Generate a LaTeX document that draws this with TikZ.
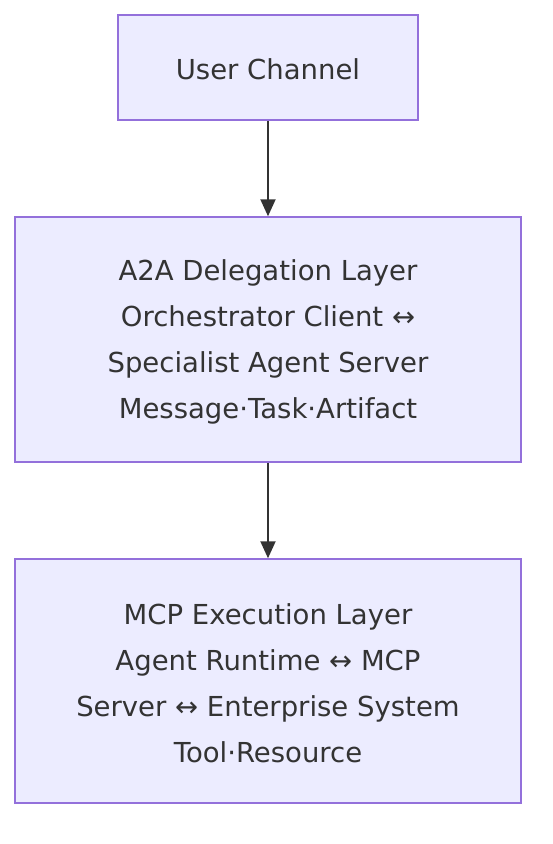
\documentclass[tikz,border=0pt]{standalone}
\usepackage{fontspec}
\setmainfont{DejaVu Sans}
\usetikzlibrary{arrows.meta}
\definecolor{boxfill}{HTML}{ECECFF}
\definecolor{boxdraw}{HTML}{9370DB}
\definecolor{txt}{HTML}{333333}
\begin{document}
\begin{tikzpicture}[x=1pt,y=-1pt,
  layer/.style={draw=boxdraw,fill=boxfill,line width=1.5pt,align=center,inner sep=0pt},
  lbl/.style={text=txt,align=center,font=\fontsize{27.5}{46}\selectfont,inner sep=0pt},
  conn/.style={draw=txt,line width=2pt,-{Triangle[length=17pt,width=15pt]}}]
\useasboundingbox (0,0) rectangle (552,844);
\node[layer,minimum width=300pt,minimum height=105pt] (user) at (268,67.5) {};
\node[lbl] (userT) at (268,69.5) {User Channel};
\node[layer,minimum width=506pt,minimum height=245pt] (a2a) at (268,339.5) {};
\node[lbl] (a2aT) at (268,342)
  {A2A Delegation Layer\\Orchestrator Client ↔\\Specialist Agent Server\\Message·Task·Artifact};
\node[layer,minimum width=506pt,minimum height=244pt] (mcp) at (268,681) {};
\node[lbl] (mcpT) at (268,683.5)
  {MCP Execution Layer\\Agent Runtime ↔ MCP\\Server ↔ Enterprise System\\Tool·Resource};
\draw[conn] (user) -- (a2a);
\draw[conn] (a2a) -- (mcp);
\end{tikzpicture}
\end{document}
